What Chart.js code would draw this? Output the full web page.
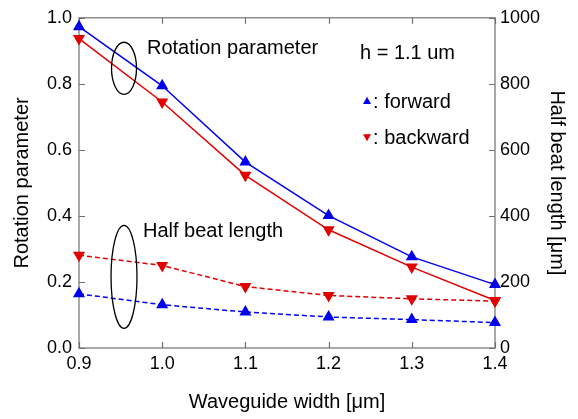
<!DOCTYPE html>
<html>
<head>
<meta charset="utf-8">
<script src="https://cdn.jsdelivr.net/npm/chart.js@4"></script>
<style>
  html, body { margin: 0; padding: 0; background: #fff; }
  #wrap { width: 578px; height: 419px; }
</style>
</head>
<body>
<div id="wrap"><canvas id="grafico" width="578" height="419"></canvas></div>
<script>
const widths = [0.9, 1.0, 1.1, 1.2, 1.3, 1.4];
const rotForward = [0.973, 0.794, 0.563, 0.401, 0.276, 0.192];
const rotBackward = [0.937, 0.745, 0.523, 0.358, 0.245, 0.144];
const beatForward = [164, 131, 109, 94, 86, 77];
const beatBackward = [281, 250, 186, 159, 149, 142];

const FONT = "'Liberation Sans', Arial, sans-serif";
const BLUE = '#0000ee';
const RED = '#e00000';
const AXIS = '#707070';

const pts = vals => widths.map((w, i) => ({ x: w, y: vals[i] }));

// inner ticks + box + annotations
const extras = {
  id: 'extras',
  beforeDatasetsDraw(chart) {
    const { ctx, chartArea: a, scales } = chart;
    ctx.save();
    ctx.strokeStyle = AXIS;
    ctx.lineWidth = 1.2;
    ctx.strokeRect(a.left, a.top, a.right - a.left, a.bottom - a.top);
    const len = 6;
    ctx.beginPath();
    scales.x.ticks.forEach(t => {
      const px = Math.round(scales.x.getPixelForValue(t.value)) + 0.5;
      ctx.moveTo(px, a.bottom); ctx.lineTo(px, a.bottom - len);
      ctx.moveTo(px, a.top); ctx.lineTo(px, a.top + len);
    });
    scales.y.ticks.forEach(t => {
      const py = Math.round(scales.y.getPixelForValue(t.value)) + 0.5;
      ctx.moveTo(a.left, py); ctx.lineTo(a.left + len, py);
    });
    scales.y1.ticks.forEach(t => {
      const py = Math.round(scales.y1.getPixelForValue(t.value)) + 0.5;
      ctx.moveTo(a.right, py); ctx.lineTo(a.right - len, py);
    });
    ctx.stroke();
    ctx.restore();
  },
  afterDraw(chart) {
    const { ctx, scales } = chart;
    const X = v => scales.x.getPixelForValue(v);
    const Y = v => scales.y.getPixelForValue(v);
    ctx.save();
    ctx.strokeStyle = '#000';
    ctx.lineWidth = 1.3;
    [[0.9541, 0.847, 0.015, 0.079], [0.9541, 0.2156, 0.0156, 0.156]].forEach(([cx, cy, rx, ry]) => {
      ctx.beginPath();
      ctx.ellipse(X(cx), Y(cy), X(cx + rx) - X(cx), Y(cy) - Y(cy + ry), 0, 0, Math.PI * 2);
      ctx.stroke();
    });
    ctx.fillStyle = '#000';
    ctx.font = '20px ' + FONT;
    ctx.textBaseline = 'middle';
    ctx.fillText('Rotation parameter', X(0.9817), Y(0.907));
    ctx.fillText('h = 1.1 um', X(1.2377), Y(0.892));
    ctx.fillText('Half beat length', X(0.9769), Y(0.353));
    ctx.fillText(': forward', X(1.2534), Y(0.745));
    ctx.fillText(': backward', X(1.2534), Y(0.633));
    const tri = (cx, cy, up, col) => {
      const s = 4;
      ctx.fillStyle = col;
      ctx.beginPath();
      if (up) { ctx.moveTo(cx, cy - s); ctx.lineTo(cx + s, cy + s * 0.8); ctx.lineTo(cx - s, cy + s * 0.8); }
      else { ctx.moveTo(cx, cy + s); ctx.lineTo(cx + s, cy - s * 0.8); ctx.lineTo(cx - s, cy - s * 0.8); }
      ctx.closePath();
      ctx.fill();
    };
    tri(X(1.2462), Y(0.749), true, BLUE);
    tri(X(1.2462), Y(0.638), false, RED);
    ctx.restore();
  }
};

const common = { borderWidth: 1.5, pointRadius: 5.5, pointStyle: 'triangle', clip: false, tension: 0 };

new Chart(document.getElementById('grafico').getContext('2d'), {
  type: 'line',
  data: {
    datasets: [
      { ...common, data: pts(rotForward), yAxisID: 'y', borderColor: BLUE, backgroundColor: BLUE },
      { ...common, data: pts(rotBackward), yAxisID: 'y', borderColor: RED, backgroundColor: RED, pointRotation: 180 },
      { ...common, data: pts(beatBackward), yAxisID: 'y1', borderColor: RED, backgroundColor: RED, pointRotation: 180, borderDash: [5, 3] },
      { ...common, data: pts(beatForward), yAxisID: 'y1', borderColor: BLUE, backgroundColor: BLUE, borderDash: [5, 3] }
    ]
  },
  options: {
    responsive: false,
    animation: false,
    layout: { padding: { top: 14, left: 0, right: 0, bottom: 0 } },
    plugins: { legend: { display: false }, tooltip: { enabled: false } },
    scales: {
      x: {
        type: 'linear', min: 0.9, max: 1.4,
        grid: { display: false, tickLength: 0 }, border: { display: false },
        ticks: { stepSize: 0.1, color: '#000', font: { family: FONT, size: 18 }, padding: 5, callback: v => v.toFixed(1) },
        title: { display: true, text: 'Waveguide width [μm]', color: '#000', font: { family: FONT, size: 20 }, padding: { top: 0, bottom: 5 } },
        afterFit: s => { s.height = 71; }
      },
      y: {
        min: 0, max: 1,
        grid: { display: false, tickLength: 0 }, border: { display: false },
        ticks: { stepSize: 0.2, color: '#000', font: { family: FONT, size: 18 }, padding: 7, callback: v => v.toFixed(1) },
        title: { display: true, text: 'Rotation parameter', color: '#000', font: { family: FONT, size: 20 }, padding: { top: 10, bottom: 0 } },
        afterFit: s => { s.width = 79; }
      },
      y1: {
        position: 'right', min: 0, max: 1000,
        grid: { display: false, tickLength: 0 }, border: { display: false },
        ticks: { stepSize: 200, color: '#000', font: { family: FONT, size: 18 }, padding: 5, callback: v => String(v) },
        title: { display: true, text: 'Half beat length [μm]', color: '#000', font: { family: FONT, size: 20 }, padding: { top: 9, bottom: 0 } },
        afterFit: s => { s.width = 83; }
      }
    }
  },
  plugins: [extras]
});
</script>
</body>
</html>
